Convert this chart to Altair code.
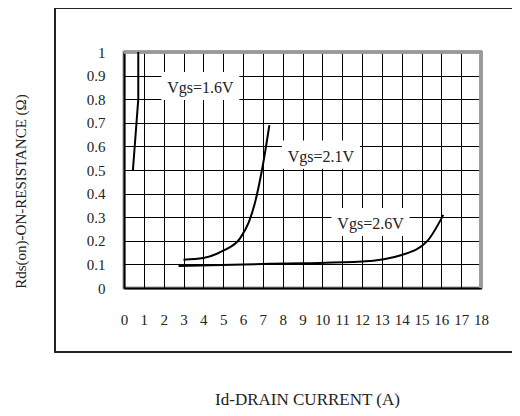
import altair as alt
import pandas as pd

# Curves (Id in A, Rds(on) in ohm)
x_16 = [0.45, 0.72, 0.72]
y_16 = [0.50, 0.80, 1.00]
x_21 = [3.0, 4.0, 5.0, 5.85, 6.3, 6.6, 7.0, 7.33]
y_21 = [0.120, 0.127, 0.158, 0.210, 0.280, 0.360, 0.520, 0.690]
x_26 = [2.75, 6.0, 9.0, 12.0, 14.0, 15.3, 16.1]
y_26 = [0.093, 0.100, 0.105, 0.112, 0.140, 0.200, 0.310]

# Curve labels
label_text = ["Vgs=1.6V", "Vgs=2.1V", "Vgs=2.6V"]
label_x = [3.85, 9.93, 12.43]
label_y = [0.856, 0.565, 0.28]

x_ticks = list(range(0, 19))
y_ticks = [0, 0.1, 0.2, 0.3, 0.4, 0.5, 0.6, 0.7, 0.8, 0.9, 1]

rows = []
for name, xs, ys in [("1.6", x_16, y_16), ("2.1", x_21, y_21), ("2.6", x_26, y_26)]:
    for i, (a, b) in enumerate(zip(xs, ys)):
        rows.append({"series": name, "idx": i, "id": a, "rds": b})
curves = pd.DataFrame(rows)
labels = pd.DataFrame({"text": label_text, "id": label_x, "rds": label_y})

FONT = "Liberation Serif"

xscale = alt.Scale(domain=[0, 18], nice=False, zero=False)
yscale = alt.Scale(domain=[0, 1], nice=False, zero=False)

xaxis = alt.Axis(
    values=x_ticks, tickCount=19, labelOverlap=False, labelFlush=False,
    grid=True, gridColor="#000", gridWidth=1, gridOpacity=1,
    domainColor="#000", domainWidth=2, ticks=False, tickSize=0,
    labelFont=FONT, labelFontSize=15, labelColor="#222", labelPadding=31,
    labelBaseline="middle", labelAngle=0,
    title="Id-DRAIN CURRENT (A)", titleFont=FONT, titleFontSize=17,
    titleFontWeight="normal", titleColor="#222", titleX=183, titleY=111,
    titleAlign="center", titleBaseline="middle",
)
yaxis = alt.Axis(
    values=y_ticks, tickCount=11, labelOverlap=False, labelFlush=False,
    format=".1~f", grid=True, gridColor="#000", gridWidth=1,
    gridOpacity=1, domainColor="#000", domainWidth=2, ticks=False, tickSize=0,
    labelFont=FONT, labelFontSize=15, labelColor="#222", labelPadding=19,
    labelBaseline="middle",
    title="Rds(on)-ON-RESISTANCE (Ω)", titleFont=FONT, titleFontSize=15,
    titleFontWeight="normal", titleColor="#222", titleX=-104, titleY=139,
    titleAlign="center", titleBaseline="middle", titleAngle=270,
)

X = alt.X("id:Q", scale=xscale, axis=xaxis)
Y = alt.Y("rds:Q", scale=yscale, axis=yaxis)

frame = alt.Chart(labels).mark_rect(fill=None, stroke="#222", strokeWidth=1.5).encode(
    x=alt.value(-69), x2=alt.value(420), y=alt.value(-44), y2=alt.value(300)
)

top_border = alt.Chart(labels).mark_rule(color="#999", strokeWidth=3).encode(
    x=alt.value(0), x2=alt.value(358), y=alt.value(0)
)
right_border = alt.Chart(labels).mark_rule(color="#999", strokeWidth=3).encode(
    x=alt.value(357), y=alt.value(-1), y2=alt.value(236)
)

base_lines = alt.Chart(curves).encode(x=X, y=Y, detail="series:N", order="idx:O")
line16 = base_lines.transform_filter(alt.datum.series == "1.6").mark_line(
    color="#000", strokeWidth=2, interpolate="linear")
line_rest = base_lines.transform_filter(alt.datum.series != "1.6").mark_line(
    color="#000", strokeWidth=2, interpolate="monotone")

boxes = alt.Chart(labels).mark_point(
    shape="M-1,-0.36L1,-0.36L1,0.36L-1,0.36Z", filled=True, fill="white",
    opacity=1, strokeWidth=0, size=6084,
).encode(x=X, y=Y)

texts = alt.Chart(labels).mark_text(
    font=FONT, fontSize=16, color="#222", align="center", baseline="middle", dy=2
).encode(x=X, y=Y, text="text:N")

chart = alt.layer(frame, top_border, right_border, line16, line_rest, boxes, texts).properties(
    width=357, height=236,
    autosize=alt.AutoSizeParams(type="none"),
    padding={"left": 116, "top": 44, "right": 31, "bottom": 120},
    background="white",
).configure_view(stroke="#999", strokeWidth=3)

chart.save("out.html", embed_options={"renderer": "svg", "actions": False})
